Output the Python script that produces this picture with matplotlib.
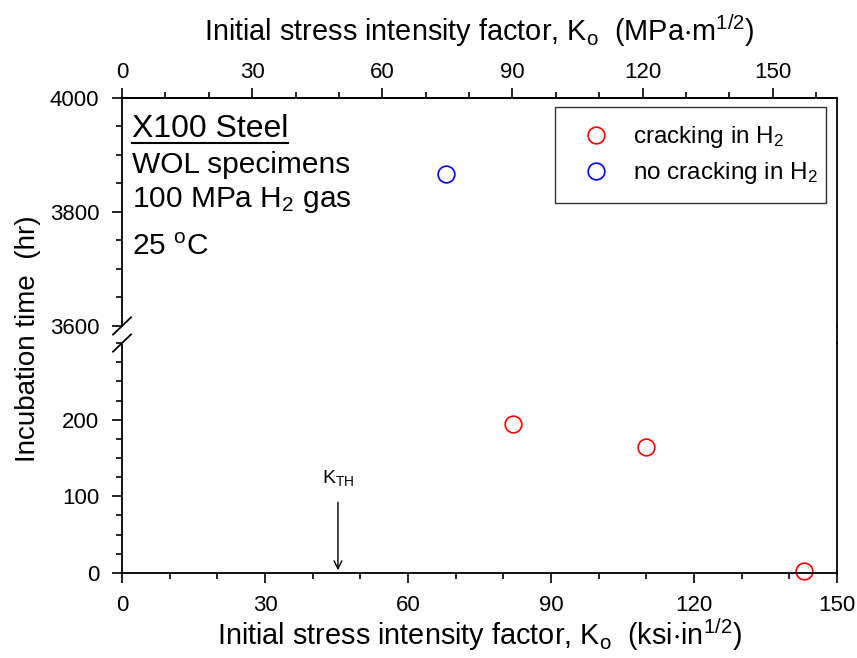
#!/usr/bin/env python3

import matplotlib
matplotlib.use("Agg")
import matplotlib.pyplot as plt
from matplotlib.lines import Line2D
from matplotlib.ticker import MultipleLocator

plt.rcParams['font.family'] = ['Liberation Sans', 'DejaVu Sans']
plt.rcParams['mathtext.default'] = 'regular'

# Data (K in ksi*in^1/2, time in hr)
k_crack = [82.0, 110.0, 143.0]
t_crack = [195, 165, 3]
k_nocrack = [68.0]
t_nocrack = [3867]
k_th = 45.3
ksi_to_mpa = 1.0988
top_ticks = [0, 30, 60, 90, 120, 150]

fig = plt.figure(figsize=(8.57, 6.58), dpi=100)
left, width = 0.1424, 0.8343
ax_top = fig.add_axes([left, 0.5046, width, 0.3465])
ax_bot = fig.add_axes([left, 0.1292, width, 0.3495])

for ax in (ax_top, ax_bot):
    ax.set_xlim(0, 150)
    ax.plot(k_crack, t_crack, 'o', mfc='none', mec='red', ms=12, mew=1.2,
            label='cracking in H$_2$', clip_on=False)
    ax.plot(k_nocrack, t_nocrack, 'o', mfc='none', mec='blue', ms=12, mew=1.2,
            label='no cracking in H$_2$', clip_on=False)
    for s in ax.spines.values():
        s.set_linewidth(1.3)
    ax.tick_params(which='major', direction='out', length=7, width=1.2, labelsize=16)
    ax.tick_params(which='minor', direction='out', length=4.5, width=1.2)
    ax.tick_params(axis='y', right=False, pad=9.5)
    ax.tick_params(axis='x', pad=9)

ax_top.set_ylim(3600, 4000)
ax_bot.set_ylim(0, 300)

ax_top.set_yticks([3600, 3800, 4000])
ax_top.yaxis.set_minor_locator(MultipleLocator(50))
ax_bot.set_yticks([0, 100, 200])
ax_bot.yaxis.set_minor_locator(MultipleLocator(25))

ax_bot.set_xticks([0, 30, 60, 90, 120, 150])
ax_bot.xaxis.set_minor_locator(MultipleLocator(10))

ax_top.spines['bottom'].set_visible(False)
ax_bot.spines['top'].set_visible(False)
ax_top.tick_params(axis='x', which='both', bottom=False, labelbottom=False, top=False)

# top axis in MPa*m^1/2
sec = ax_top.secondary_xaxis('top', functions=(lambda x: x * ksi_to_mpa, lambda x: x / ksi_to_mpa))
sec.set_xticks(top_ticks)
sec.xaxis.set_minor_locator(MultipleLocator(10))
sec.tick_params(which='major', direction='out', length=7, width=1.2, labelsize=16, pad=4)
sec.tick_params(which='minor', direction='out', length=4.5, width=1.2)
sec.spines['top'].set_linewidth(1.3)
sec.set_xlabel('Initial stress intensity factor, K$_o$  (MPa$\\cdot$m$^{1/2}$)', fontsize=20.8, labelpad=15)

ax_bot.set_xlabel('Initial stress intensity factor, K$_o$  (ksi$\\cdot$in$^{1/2}$)', fontsize=20.8, labelpad=0)
fig.text(0.033, 0.486, 'Incubation time  (hr)', rotation=90, fontsize=20, ha='center', va='center')

# right spine continuous across the break
x_r = left + width
fig.add_artist(Line2D([x_r, x_r], [0.4787, 0.5046], color='black', lw=1.3, transform=fig.transFigure))

# break marks on left spine
d = 0.0105
for yb in (0.5046, 0.4787):
    fig.add_artist(Line2D([left - d, left + d], [yb - d * 1.25, yb + d * 1.25],
                          color='black', lw=1.3, transform=fig.transFigure))

# annotation text
t1 = ax_top.text(0.014, 0.829, 'X100 Steel', transform=ax_top.transAxes, fontsize=23, va='baseline')
ax_top.text(0.014, 0.671, 'WOL specimens', transform=ax_top.transAxes, fontsize=21.5, va='baseline')
ax_top.text(0.014, 0.52, '100 MPa H$_2$ gas', transform=ax_top.transAxes, fontsize=21.5, va='baseline')
ax_top.text(0.014, 0.311, '25 $^o$C', transform=ax_top.transAxes, fontsize=21.5, va='baseline')

fig.canvas.draw()
bb = t1.get_window_extent()
uy = bb.y0 + 1
fig.add_artist(Line2D([bb.x0 / fig.bbox.width, bb.x1 / fig.bbox.width],
                      [uy / fig.bbox.height] * 2, color='black', lw=1.5,
                      transform=fig.transFigure))

# K_TH arrow
ax_bot.annotate('', xy=(k_th, 0), xytext=(k_th, 96),
                arrowprops=dict(arrowstyle='->', color='black', lw=1.0, mutation_scale=14))
ax_bot.text(k_th, 111, 'K$_{TH}$', fontsize=14, ha='center', va='bottom')

leg = ax_top.legend(loc='upper left', bbox_to_anchor=(0.6056, 0.56, 0.3794, 0.40), mode='expand',
                    borderaxespad=0, fontsize=17.5, frameon=True, fancybox=False,
                    edgecolor='black', handletextpad=0.5, borderpad=0.7, labelspacing=0.42,
                    handlelength=2.0)
leg.get_frame().set_linewidth(1.0)

fig.savefig('out.png', dpi=100)
